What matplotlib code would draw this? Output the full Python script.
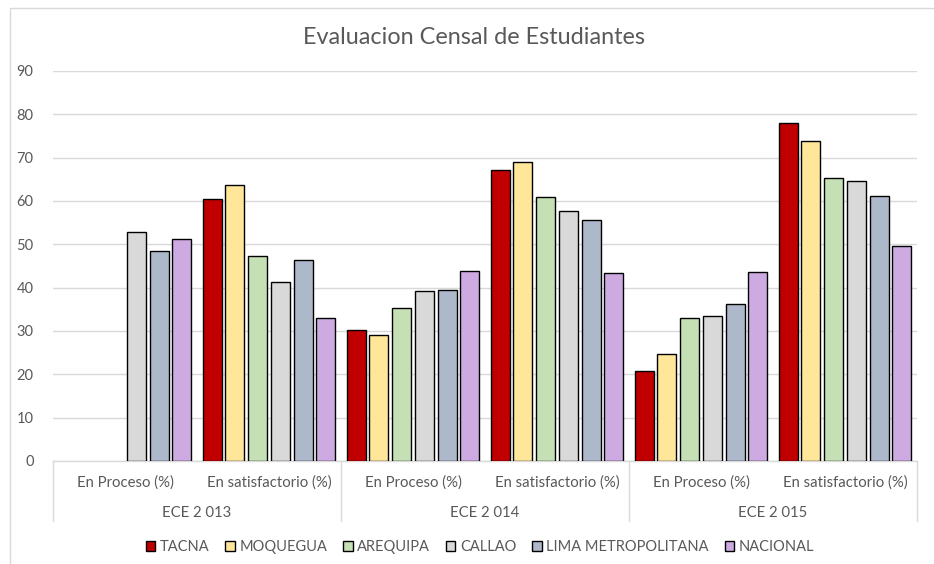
import numpy as np
import matplotlib
matplotlib.use("Agg")
import matplotlib.pyplot as plt
from matplotlib.patches import Rectangle
from matplotlib.lines import Line2D
import matplotlib.transforms as mtransforms

plt.rcParams["font.family"] = ["Lato", "DejaVu Sans"]

years = ["ECE 2 013", "ECE 2 014", "ECE 2 015"]
levels = ["En Proceso (%)", "En satisfactorio (%)"]
series = ["TACNA", "MOQUEGUA", "AREQUIPA", "CALLAO", "LIMA METROPOLITANA", "NACIONAL"]
colors = ["#C00000", "#FFE699", "#C5E0B4", "#D9D9D9", "#ADB9CA", "#CDAAE2"]

# values per category: 2013 proceso, 2013 satisf, 2014 proceso, 2014 satisf, 2015 proceso, 2015 satisf
tacna = [np.nan, 60.4, 30.2, 67.2, 20.7, 78.0]
moquegua = [np.nan, 63.6, 29.0, 69.0, 24.8, 73.8]
arequipa = [np.nan, 47.2, 35.3, 61.0, 32.9, 65.2]
callao = [52.9, 41.3, 39.2, 57.7, 33.5, 64.5]
lima = [48.5, 46.4, 39.5, 55.6, 36.2, 61.2]
nacional = [51.2, 32.9, 43.9, 43.4, 43.7, 49.6]
values = [tacna, moquegua, arequipa, callao, lima, nacional]

W, H = 934, 564
fig = plt.figure(figsize=(W / 100, H / 100), dpi=100)
ax = fig.add_axes([53 / W, 1 - 461 / H, (917 - 53) / W, (461 - 71) / H])

txt = "#595959"
grid = "#D9D9D9"

x = np.arange(6)
step, bw = 0.158, 0.132
for i, (name, vals, c) in enumerate(zip(series, values, colors)):
    ax.bar(x + (i - 2.5) * step, vals, width=bw, color=c, edgecolor="black",
           linewidth=1.0, label=name, zorder=3)

ax.set_xlim(-0.5, 5.5)
ax.set_ylim(0, 90)
ax.set_yticks(range(0, 91, 10))
ax.yaxis.grid(True, color=grid, linewidth=1.0, zorder=0)
ax.tick_params(axis="y", length=0, pad=14, labelsize=10.5, labelcolor=txt)
ax.set_xticks([])
for s in ["top", "right", "left"]:
    ax.spines[s].set_visible(False)
ax.spines["bottom"].set_color(grid)
ax.spines["bottom"].set_linewidth(1.0)

# multi-level category axis
tr = mtransforms.blended_transform_factory(ax.transData, ax.transAxes)
px = 1 / 390
for xv in [-0.5, 1.5, 3.5, 5.5]:
    ax.add_line(Line2D([xv, xv], [0, -60 * px], transform=tr, color=grid,
                       linewidth=1.0, clip_on=False))
for k in range(6):
    ax.text(k, -22 * px, levels[k % 2], transform=tr, ha="center", va="center",
            fontsize=10.7, color=txt)
for j, yr in enumerate(years):
    ax.text(2 * j + 0.5, -52 * px, yr, transform=tr, ha="center", va="center",
            fontsize=10.7, color=txt)

fig.text(474 / W, 1 - 38 / H, "Evaluacion Censal de Estudiantes", fontsize=16.8,
         color=txt, ha="center", va="center")

fig.legend(loc="center", bbox_to_anchor=(480 / W, 1 - 547 / H), ncol=6,
           frameon=False, fontsize=10.5, labelcolor=txt, handlelength=0.65,
           handleheight=0.65, handletextpad=0.3, columnspacing=1.1)

fig.patches.append(Rectangle((10 / W, -0.05), 1.0, 1 - 8 / H + 0.05,
                             transform=fig.transFigure, fill=False,
                             edgecolor=grid, linewidth=1.0))

fig.savefig("out.png", dpi=100)
